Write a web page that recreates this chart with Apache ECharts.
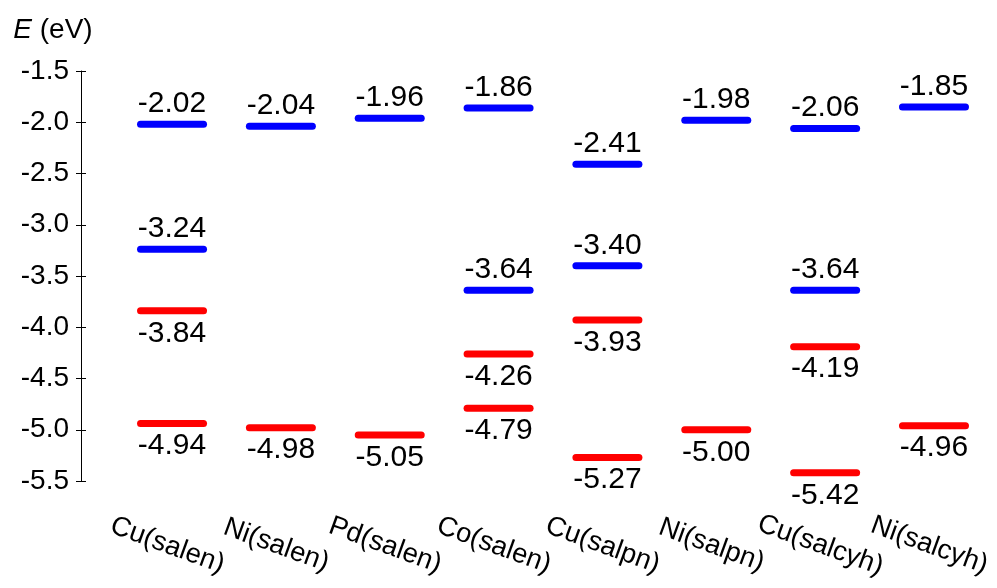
<!DOCTYPE html>
<html>
<head>
<meta charset="utf-8">
<script src="https://cdn.jsdelivr.net/npm/echarts@6/dist/echarts.min.js"></script>
<style>
  html, body { margin: 0; padding: 0; background: #fff; }
  #chart { width: 997px; height: 588px; }
</style>
</head>
<body>
<div id="chart"></div>
<script>
const categories = ['Cu(salen)', 'Ni(salen)', 'Pd(salen)', 'Co(salen)', 'Cu(salpn)', 'Ni(salpn)', 'Cu(salcyh)', 'Ni(salcyh)'];
// blue levels (labels above), red levels (labels below)
const blueUpper = [-2.02, -2.04, -1.96, -1.86, -2.41, -1.98, -2.06, -1.85];
const blueLower = [-3.24, null, null, -3.64, -3.40, null, -3.64, null];
const redUpper = [-3.84, null, null, -4.26, -3.93, null, -4.19, null];
const redLower = [-4.94, -4.98, -5.05, -4.79, -5.27, -5.00, -5.42, -4.96];
const yTicks = [-5.5, -5.0, -4.5, -4.0, -3.5, -3.0, -2.5, -2.0, -1.5];

const FONT = '"Liberation Sans", Arial, sans-serif';
// level bar with round caps
const levelSymbol = 'path://M3.5,0 H66.5 A3.5,3.5 0 0 1 66.5,7 H3.5 A3.5,3.5 0 0 1 3.5,0 Z';

function pairs(arr) {
    return arr.map((v, i) => v == null ? null : [i, v]).filter(d => d);
}

function levelSeries(name, arr, color, pos) {
    return {
        name: name,
        type: 'scatter',
        data: pairs(arr),
        symbol: levelSymbol,
        symbolSize: [70, 7],
        itemStyle: { color: color, opacity: 1 },
        label: {
            show: true,
            position: pos,
            distance: pos === 'top' ? 2 : 4,
            color: '#000',
            fontSize: 30,
            fontFamily: FONT,
            formatter: p => p.value[1].toFixed(2)
        },
        emphasis: { disabled: true }
    };
}

const chart = echarts.init(document.getElementById('chart'));

chart.setOption({
    animation: false,
    backgroundColor: '#fff',
    grid: { left: 117.6, right: 8.6, top: 71, bottom: 107, containLabel: false },
    xAxis: {
        type: 'category',
        data: categories,
        axisLine: { show: false },
        axisTick: { show: false },
        splitLine: { show: false },
        axisLabel: {
            interval: 0,
            rotate: -20,
            margin: 66,
            align: 'center',
            verticalAlign: 'middle',
            padding: [0, 10, 0, 0],
            color: '#000',
            fontSize: 27.5,
            fontFamily: FONT
        }
    },
    yAxis: [
        {
            type: 'value',
            min: yTicks[0],
            max: yTicks[yTicks.length - 1],
            interval: 0.5,
            offset: 36.6,
            name: '{i|E} (eV)',
            nameLocation: 'end',
            nameGap: 41,
            nameTextStyle: {
                align: 'center',
                verticalAlign: 'middle',
                padding: [0, 56, 0, 0],
                color: '#000',
                fontSize: 28,
                fontFamily: FONT,
                rich: {
                    i: { fontStyle: 'italic', fontSize: 28, fontFamily: FONT, color: '#000' }
                }
            },
            axisLine: { show: true, lineStyle: { color: '#000', width: 1 } },
            axisTick: { show: true, inside: true, length: 5, lineStyle: { color: '#000' } },
            splitLine: { show: false },
            axisLabel: {
                margin: 12,
                color: '#000',
                fontSize: 28,
                fontFamily: FONT,
                formatter: v => v.toFixed(1)
            }
        },
        {
            type: 'value',
            position: 'left',
            min: yTicks[0],
            max: yTicks[yTicks.length - 1],
            interval: 0.5,
            offset: 36.6,
            axisLine: { show: false },
            axisTick: { show: true, inside: false, length: 5, lineStyle: { color: '#000' } },
            axisLabel: { show: false },
            splitLine: { show: false }
        }
    ],
    series: [
        levelSeries('blueUpper', blueUpper, '#0000ff', 'top'),
        levelSeries('blueLower', blueLower, '#0000ff', 'top'),
        levelSeries('redUpper', redUpper, '#ff0000', 'bottom'),
        levelSeries('redLower', redLower, '#ff0000', 'bottom')
    ]
});

window.addEventListener('resize', () => chart.resize());
</script>
</body>
</html>
